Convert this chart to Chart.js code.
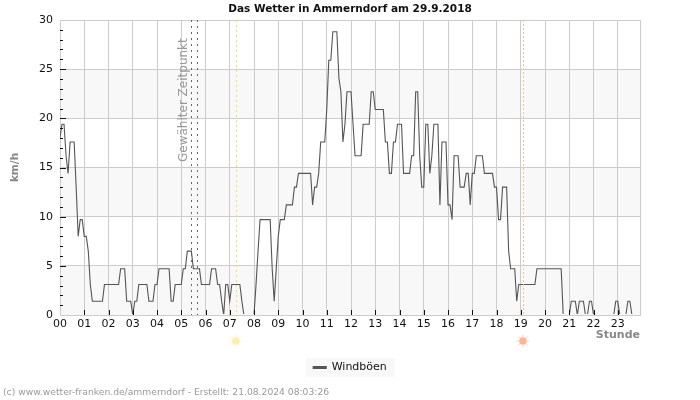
<!DOCTYPE html>
<html>
<head>
<meta charset="utf-8">
<title>Das Wetter in Ammerndorf</title>
<script src="https://cdn.jsdelivr.net/npm/chart.js@4"></script>
<style>
  html, body { margin: 0; padding: 0; background: #fff; }
  canvas { display: block; }
</style>
</head>
<body>
<canvas id="wetterChart" width="700" height="400"></canvas>
<script>
// Windböen in km/h, one row per hour, 5 minute readings
const windGusts = [
  18,19.4,19.4,16.2,14.4,17.6,17.6,17.6,13,8,9.7,9.7,
  8,8,6.5,3.1,1.4,1.4,1.4,1.4,1.4,1.4,3.1,3.1,
  3.1,3.1,3.1,3.1,3.1,3.1,4.7,4.7,4.7,1.4,1.4,1.4,
  0,1.4,1.4,3.1,3.1,3.1,3.1,3.1,1.4,1.4,1.4,3.1,
  3.1,4.7,4.7,4.7,4.7,4.7,4.7,1.4,1.4,3.1,3.1,3.1,
  3.1,4.7,4.7,6.5,6.5,6.5,4.7,4.7,4.7,4.7,3.1,3.1,
  3.1,3.1,3.1,4.7,4.7,4.7,3.1,3.1,1.4,0,3.1,3.1,
  1.4,3.1,3.1,3.1,3.1,3.1,1.4,0,0,0,0,0,
  0,3.1,6.5,9.7,9.7,9.7,9.7,9.7,9.7,4.7,1.4,4.7,
  8,9.7,9.7,9.7,11.2,11.2,11.2,11.2,13,13,14.4,14.4,
  14.4,14.4,14.4,14.4,14.4,11.2,13,13,14.4,17.6,17.6,17.6,
  20.9,25.9,25.9,28.8,28.8,28.8,24.1,22.7,17.6,19.4,22.7,22.7,
  22.7,19.4,16.2,16.2,16.2,16.2,19.4,19.4,19.4,19.4,22.7,22.7,
  20.9,20.9,20.9,20.9,20.9,17.6,17.6,14.4,14.4,17.6,17.6,19.4,
  19.4,19.4,14.4,14.4,14.4,14.4,16.2,16.2,22.7,22.7,16.2,13,
  13,19.4,19.4,14.4,16.2,19.4,19.4,19.4,11.2,17.6,17.6,17.6,
  11.2,11.2,9.7,16.2,16.2,16.2,13,13,13,14.4,14.4,11.2,
  14.4,14.4,16.2,16.2,16.2,16.2,14.4,14.4,14.4,14.4,14.4,13,
  13,9.7,9.7,13,13,13,6.5,4.7,4.7,4.7,1.4,3.1,
  3.1,3.1,3.1,3.1,3.1,3.1,3.1,3.1,4.7,4.7,4.7,4.7,
  4.7,4.7,4.7,4.7,4.7,4.7,4.7,4.7,4.7,0,0,0,
  0,1.4,1.4,1.4,0,1.4,1.4,1.4,0,0,1.4,1.4,
  0,0,0,0,0,0,0,0,0,0,0,1.4,
  1.4,0,0,0,0,1.4,1.4,0,0,0,0,0
];
const hourLabels = ["00","01","02","03","04","05","06","07","08","09","10","11",
                    "12","13","14","15","16","17","18","19","20","21","22","23"];
const selectedHours = [5.4, 5.65];   // dotted lines, Gewählter Zeitpunkt
const sunriseHour = 7.25;
const sunsetHour = 19.09;
const bandRanges = [[0, 5], [10, 15], [20, 25]];
const LAST_HOUR = 287 / 12;   // axis ends on the last reading, 23:55
const FONT = "'DejaVu Sans'";

Chart.defaults.font.family = FONT;
Chart.defaults.color = "#222";

function drawSun(ctx, x, y, core, ray) {
  ctx.save();
  ctx.strokeStyle = ray;
  ctx.lineWidth = 1;
  for (let a = 0; a < 8; a++) {
    const t = a * Math.PI / 4;
    ctx.beginPath();
    ctx.moveTo(x + Math.cos(t) * 4, y + Math.sin(t) * 4);
    ctx.lineTo(x + Math.cos(t) * 6.5, y + Math.sin(t) * 6.5);
    ctx.stroke();
  }
  ctx.fillStyle = core;
  ctx.beginPath();
  ctx.arc(x, y, 3.8, 0, Math.PI * 2);
  ctx.fill();
  ctx.restore();
}

function vLine(ctx, x, top, bottom, color, dash) {
  ctx.save();
  ctx.strokeStyle = color;
  ctx.lineWidth = 1;
  ctx.setLineDash(dash);
  ctx.beginPath();
  ctx.moveTo(Math.round(x) + 0.5, top);
  ctx.lineTo(Math.round(x) + 0.5, bottom);
  ctx.stroke();
  ctx.restore();
}

const wetterPlugin = {
  id: "wetterPlugin",
  beforeDraw(chart) {
    const { ctx, chartArea: area, scales: { y }, legend } = chart;
    ctx.save();
    ctx.fillStyle = "#f8f8f8";
    bandRanges.forEach(([lo, hi]) => {
      ctx.fillRect(area.left, y.getPixelForValue(hi), area.right - area.left, y.getPixelForValue(lo) - y.getPixelForValue(hi));
    });
    // legend box
    const hit = legend.legendHitBoxes[0];
    ctx.fillRect(hit.left - 7, legend.top, hit.width + 15, 19);
    ctx.restore();
  },
  afterDatasetsDraw(chart) {
    const { ctx, chartArea: area, scales: { x, y } } = chart;
    // ticks on the inside of the plot
    ctx.save();
    ctx.strokeStyle = "#111";
    ctx.lineWidth = 1;
    for (let v = 0; v <= 30; v++) {
      if (v === 0 || v === 30) continue;
      const py = Math.round(y.getPixelForValue(v)) + 0.5;
      ctx.beginPath();
      ctx.moveTo(area.left, py);
      ctx.lineTo(area.left + (v % 5 === 0 ? 6 : 3), py);
      ctx.stroke();
    }
    hourLabels.forEach((_, h) => {
      if (h === 0) return;
      const px = Math.round(x.getPixelForValue(h)) + 0.5;
      ctx.beginPath();
      ctx.moveTo(px, area.bottom);
      ctx.lineTo(px, area.bottom - 5);
      ctx.stroke();
    });
    ctx.restore();

    selectedHours.forEach(h => vLine(ctx, x.getPixelForValue(h), area.top, area.bottom, "#666", [2, 4]));
    vLine(ctx, x.getPixelForValue(sunriseHour), area.top, area.bottom, "#f7e14a", [2, 3]);
    vLine(ctx, x.getPixelForValue(sunsetHour), area.top, area.bottom, "#f6c48c", [2, 2]);

    ctx.save();
    ctx.translate(x.getPixelForValue(selectedHours[0]) - 7, 162);
    ctx.rotate(-Math.PI / 2);
    ctx.font = "12px " + FONT;
    ctx.fillStyle = "#999";
    ctx.textAlign = "left";
    ctx.textBaseline = "middle";
    ctx.fillText("Gewählter Zeitpunkt", 0, 0);
    ctx.restore();

    drawSun(ctx, x.getPixelForValue(sunriseHour), 341, "#ffeeb0", "#fff3cc");
    drawSun(ctx, x.getPixelForValue(sunsetHour), 341, "#ffb49a", "#ffd2c2");

    ctx.save();
    ctx.font = "9.2px " + FONT;
    ctx.fillStyle = "#999";
    ctx.textBaseline = "middle";
    ctx.fillText("(c) www.wetter-franken.de/ammerndorf - Erstellt: 21.08.2024 08:03:26", 3, 393);
    ctx.restore();
  }
};

new Chart(document.getElementById("wetterChart"), {
  type: "line",
  data: {
    datasets: [{
      label: "Windböen",
      data: windGusts.map((v, i) => ({ x: i / 12, y: v })),
      borderColor: "#555",
      backgroundColor: "#555",
      borderWidth: 1.1,
      pointRadius: 0,
      tension: 0,
      fill: false,
      clip: { left: 0, top: 0, right: 0, bottom: -1 }
    }]
  },
  options: {
    responsive: false,
    animation: false,
    layout: { padding: { left: 0, right: 0, top: 0, bottom: 17 } },
    plugins: {
      tooltip: { enabled: false },
      title: {
        display: true,
        text: "Das Wetter in Ammerndorf am 29.9.2018",
        color: "#111",
        font: { size: 10.5, weight: "bold" },
        padding: { top: 3, bottom: 4.4 }
      },
      legend: {
        position: "bottom",
        labels: { boxWidth: 13, boxHeight: 2, padding: 4, color: "#111", font: { size: 11 } }
      }
    },
    scales: {
      x: {
        type: "linear",
        min: 0,
        max: LAST_HOUR,
        afterFit(scale) { scale.height = 43; },
        // the default tick builder drops 23 because it sits so close to the max
        afterBuildTicks(scale) {
          scale.ticks = hourLabels.map((_, h) => ({ value: h })).concat({ value: LAST_HOUR });
        },
        grid: { color: "#ccc", drawTicks: false },
        border: { color: "#ccc" },
        ticks: {
          autoSkip: false,
          maxRotation: 0,
          padding: 3,
          color: "#111",
          font: { size: 11 },
          callback: v => hourLabels[v] || ""
        },
        title: {
          display: true,
          text: "Stunde",
          align: "end",
          color: "#888",
          font: { size: 11, weight: "bold" },
          padding: { top: 0, bottom: 16 }
        }
      },
      y: {
        min: 0,
        max: 30,
        afterFit(scale) { scale.width = 60; },
        grid: { color: "#ccc", drawTicks: false },
        border: { color: "#ccc" },
        ticks: { stepSize: 5, padding: 7, color: "#111", font: { size: 11 } },
        title: {
          display: true,
          text: "km/h",
          color: "#888",
          font: { size: 10.5, weight: "bold" },
          padding: { top: 9, bottom: 0 }
        }
      },
      // empty axis, only keeps the right margin so title and legend stay centred on the page
      yRight: {
        position: "right",
        min: 0,
        max: 30,
        afterFit(scale) { scale.width = 60; },
        grid: { display: false },
        border: { display: false },
        ticks: { display: false }
      }
    }
  },
  plugins: [wetterPlugin]
});
</script>
</body>
</html>
